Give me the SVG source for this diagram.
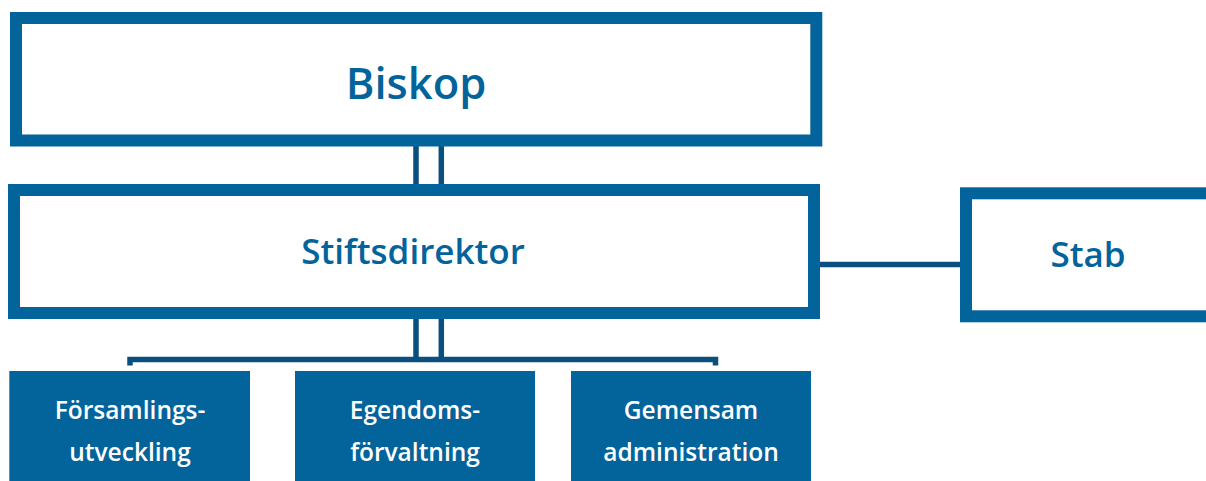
<svg xmlns="http://www.w3.org/2000/svg" width="1206" height="481" viewBox="0 0 1206 481">
<style>
.frame{fill:#ffffff;stroke:#03639b;stroke-width:12}
.solid{fill:#03639b}
.conn{fill:none;stroke:#0a4f7e;stroke-width:5.5;stroke-linecap:butt;stroke-linejoin:miter}
.blue{fill:#03639b;font-family:"Open Sans",Lato,sans-serif;font-weight:600;text-anchor:middle}
.white{fill:#ffffff;font-family:"Open Sans",Lato,sans-serif;font-weight:600;font-size:24.5px;text-anchor:middle}
</style>
<g id="connectors">
<line class="conn" x1="416" y1="146" x2="416" y2="184"/>
<line class="conn" x1="441.3" y1="146" x2="441.3" y2="184"/>
<line class="conn" x1="416" y1="318" x2="416" y2="360"/>
<line class="conn" x1="441.3" y1="318" x2="441.3" y2="360"/>
<path class="conn" d="M130,365.5 V359.5 H715.5 V365.5"/>
<line class="conn" x1="820" y1="264.5" x2="961" y2="264.5"/>
</g>
<g id="biskop">
<rect class="frame" x="16" y="18" width="800.3" height="122.5"/>
<text class="blue" x="416" y="99" font-size="43.5">Biskop</text>
</g>
<g id="stiftsdirektor">
<rect class="frame" x="14" y="190" width="800" height="123"/>
<text class="blue" x="413" y="264" font-size="35">Stiftsdirektor</text>
</g>
<g id="stab">
<rect class="frame" x="966" y="193.3" width="250" height="123"/>
<text class="blue" x="1088" y="267" font-size="35">Stab</text>
</g>
<g id="forsamlingsutveckling">
<rect class="solid" x="9.3" y="371" width="240.7" height="115"/>
<text class="white" x="130" y="419">Församlings-</text>
<text class="white" x="130" y="461">utveckling</text>
</g>
<g id="egendomsforvaltning">
<rect class="solid" x="295" y="371" width="240" height="115"/>
<text class="white" x="415" y="419">Egendoms-</text>
<text class="white" x="415" y="461">förvaltning</text>
</g>
<g id="gemensam">
<rect class="solid" x="571" y="371" width="240" height="115"/>
<text class="white" x="691" y="419">Gemensam</text>
<text class="white" x="691" y="461">administration</text>
</g>
</svg>
